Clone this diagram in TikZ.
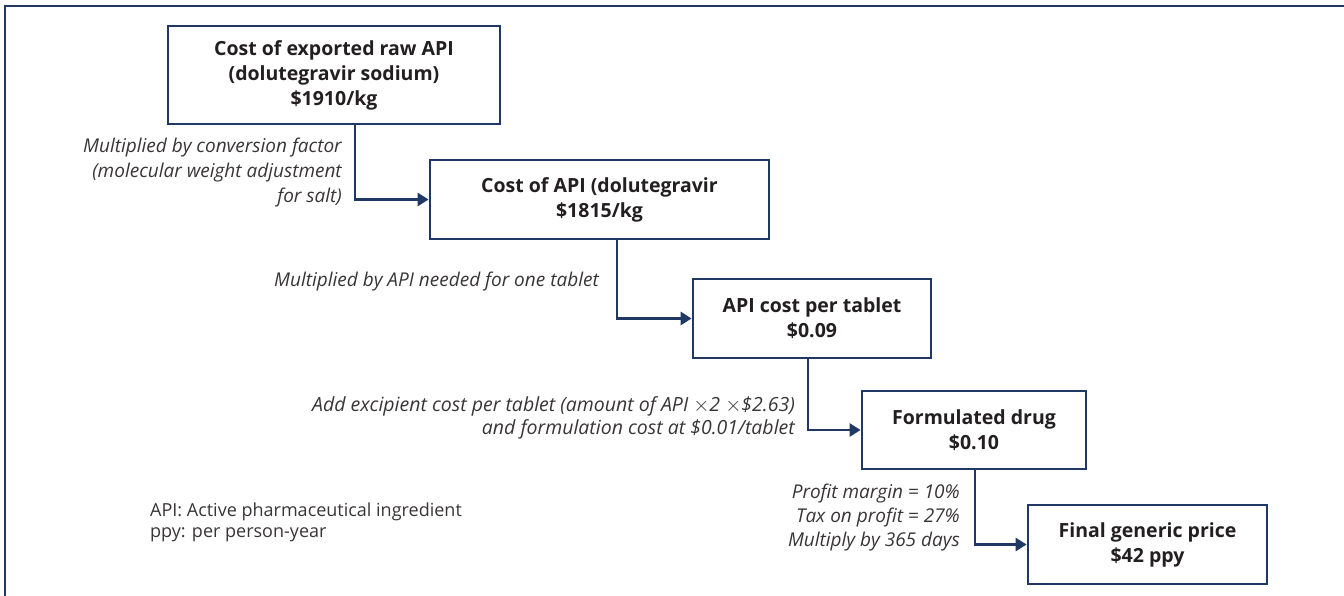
\documentclass[tikz,border=0pt]{standalone}
\usepackage{fontspec}
\setmainfont{Open Sans}
\usetikzlibrary{arrows.meta}
\definecolor{navy}{HTML}{1F3864}
\definecolor{ink}{HTML}{231F20}
\tikzset{
  stepbox/.style={draw=navy, line width=2.8pt, fill=white, text=ink, align=center,
    font=\fontsize{19.5}{25}\selectfont\bfseries, inner sep=0pt},
  conn/.style={draw=navy, line width=2.7pt, -{Triangle[length=11pt,width=13pt]}},
  note/.style={text=ink!90, align=right, anchor=east, inner sep=0pt,
    font=\fontsize{19}{25}\selectfont\itshape},
  legend/.style={text=ink!90, align=left, anchor=west, inner sep=0pt,
    font=\fontsize{18}{21}\selectfont},
}
\begin{document}
\begin{tikzpicture}[x=1pt,y=-1pt]
\useasboundingbox (0,0) rectangle (1344,596);
\draw[navy, line width=1.6pt] (5,600) -- (5,6) -- (1350,6);

\node[stepbox, minimum width=332pt, minimum height=98pt] (b1) at (334,75)
  {Cost of exported raw API\\(dolutegravir sodium)\\\$1910/kg};
\node[stepbox, minimum width=339pt, minimum height=79pt] (b2) at (599.5,199.5)
  {Cost of API (dolutegravir\\\$1815/kg};
\node[stepbox, minimum width=238pt, minimum height=79pt] (b3) at (812,318.5)
  {API cost per tablet\\\$0.09};
\node[stepbox, minimum width=224pt, minimum height=78pt] (b4) at (974,430)
  {Formulated drug\\\$0.10};
\node[stepbox, minimum width=239pt, minimum height=79pt] (b5) at (1147.5,544.5)
  {Final generic price\\\$42 ppy};

\coordinate (s1) at ([xshift=21pt]b1.south);
\coordinate (s2) at ([xshift=17.5pt]b2.south);
\coordinate (s3) at ([xshift=-4pt]b3.south);
\coordinate (s4) at ([xshift=1pt]b4.south);

\draw[conn] (s1) |- (b2.west);
\draw[conn] (s2) |- (b3.west);
\draw[conn] (s3) |- (b4.west);
\draw[conn] (s4) |- (b5.west);

\node[note] (n1) at (342,173) {Multiplied by conversion factor\\(molecular weight adjustment\\for salt)};
\node[note] (n2) at (599,282) {Multiplied by API needed for one tablet};
\node[note, font=\fontsize{19.5}{23}\selectfont\itshape] (n3) at (795,418) {Add excipient cost per tablet (amount of API $\times$2 $\times$\$2.63)\\and formulation cost at \$0.01/tablet};
\node[note, font=\fontsize{19}{24}\selectfont\itshape] (n4) at (960,518) {Profit margin = 10\%\\Tax on profit = 27\%\\Multiply by 365 days};

\node[legend] (lg) at (150,522) {API: Active pharmaceutical ingredient\\ppy: per person-year};
\end{tikzpicture}
\end{document}
